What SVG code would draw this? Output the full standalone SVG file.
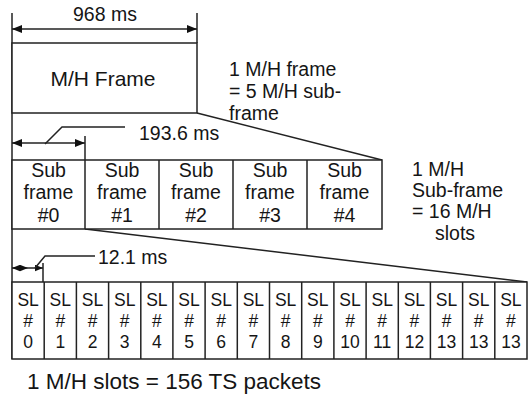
<svg xmlns="http://www.w3.org/2000/svg" width="530" height="396" viewBox="0 0 530 396">
<defs>
<marker id="ah" viewBox="0 0 10 8" refX="10" refY="4" markerWidth="10" markerHeight="8" markerUnits="userSpaceOnUse" orient="auto-start-reverse"><path d="M0,0 L10,4 L0,8 Z" fill="#111"/></marker>
<marker id="ahs" viewBox="0 0 10 8" refX="10" refY="4" markerWidth="8" markerHeight="7" markerUnits="userSpaceOnUse" orient="auto-start-reverse"><path d="M0,0 L10,4 L0,8 Z" fill="#111"/></marker>
</defs>
<style>
.ln{stroke:#222;stroke-width:1.5;fill:none}
.bx{stroke:#222;stroke-width:1.5;fill:#fff}
text{font-family:"Liberation Sans",Arial,sans-serif;fill:#151515}
.t{font-size:19.5px}
.f{font-size:21px}
.c{text-anchor:middle}
.sl{font-size:17.5px;text-anchor:middle}
.b{font-size:22.5px}
</style>
<rect width="530" height="396" fill="#fff"/>
<g id="connectors">
<line class="ln" x1="12" y1="13" x2="12" y2="359"/>
<line class="ln" x1="197" y1="13" x2="197" y2="43"/>
<line class="ln" x1="12" y1="29" x2="197" y2="29" marker-start="url(#ah)" marker-end="url(#ah)"/>
<line class="ln" x1="197" y1="113" x2="382" y2="160"/>
<line class="ln" x1="85" y1="229" x2="527" y2="282"/>
<line class="ln" x1="12" y1="143" x2="85" y2="143" marker-start="url(#ah)" marker-end="url(#ah)"/>
<line class="ln" x1="85" y1="136" x2="85" y2="160"/>
<polyline class="ln" points="45,144 62,127 125,127"/>
<line class="ln" x1="12" y1="268" x2="28" y2="268" marker-start="url(#ahs)" marker-end="url(#ahs)"/>
<line class="ln" x1="28" y1="268" x2="43" y2="268" marker-end="url(#ahs)"/>
<line class="ln" x1="43" y1="263" x2="43" y2="282"/>
<polyline class="ln" points="35,268 45,256 95,256"/>
</g>
<g id="frame">
<rect class="bx" x="12" y="43" width="185" height="70"/>
<text class="f c" x="103" y="86">M/H Frame</text>
</g>
<g id="label-968"><text class="t c" x="105" y="21">968 ms</text></g>
<g id="label-frame-eq">
<text class="t" x="229" y="76">1 M/H frame</text>
<text class="t" x="229" y="98">= 5 M/H sub-</text>
<text class="t" x="229" y="120">frame</text>
</g>
<g id="label-193"><text class="t" x="139" y="140">193.6 ms</text></g>
<g id="subframes">
<rect class="bx" x="12" y="160" width="370" height="69"/>
<line class="ln" x1="85" y1="160" x2="85" y2="229"/>
<line class="ln" x1="159" y1="160" x2="159" y2="229"/>
<line class="ln" x1="233" y1="160" x2="233" y2="229"/>
<line class="ln" x1="307" y1="160" x2="307" y2="229"/>
<g id="sf0"><text class="t c" x="48.5" y="177">Sub</text><text class="t c" x="48.5" y="199">frame</text><text class="t c" x="48.5" y="222">#0</text></g>
<g id="sf1"><text class="t c" x="122" y="177">Sub</text><text class="t c" x="122" y="199">frame</text><text class="t c" x="122" y="222">#1</text></g>
<g id="sf2"><text class="t c" x="196" y="177">Sub</text><text class="t c" x="196" y="199">frame</text><text class="t c" x="196" y="222">#2</text></g>
<g id="sf3"><text class="t c" x="270" y="177">Sub</text><text class="t c" x="270" y="199">frame</text><text class="t c" x="270" y="222">#3</text></g>
<g id="sf4"><text class="t c" x="344.5" y="177">Sub</text><text class="t c" x="344.5" y="199">frame</text><text class="t c" x="344.5" y="222">#4</text></g>
</g>
<g id="label-subframe-eq">
<text class="t" x="412" y="176">1 M/H</text>
<text class="t" x="412" y="197">Sub-frame</text>
<text class="t" x="412" y="218">= 16 M/H</text>
<text class="t" x="435" y="240">slots</text>
</g>
<g id="label-121"><text class="t" x="98" y="264">12.1 ms</text></g>
<g id="slots">
<rect class="bx" x="12" y="282" width="515" height="77"/>
<line class="ln" x1="44.2" y1="282" x2="44.2" y2="359"/>
<line class="ln" x1="76.4" y1="282" x2="76.4" y2="359"/>
<line class="ln" x1="108.6" y1="282" x2="108.6" y2="359"/>
<line class="ln" x1="140.8" y1="282" x2="140.8" y2="359"/>
<line class="ln" x1="172.9" y1="282" x2="172.9" y2="359"/>
<line class="ln" x1="205.1" y1="282" x2="205.1" y2="359"/>
<line class="ln" x1="237.3" y1="282" x2="237.3" y2="359"/>
<line class="ln" x1="269.5" y1="282" x2="269.5" y2="359"/>
<line class="ln" x1="301.7" y1="282" x2="301.7" y2="359"/>
<line class="ln" x1="333.9" y1="282" x2="333.9" y2="359"/>
<line class="ln" x1="366.1" y1="282" x2="366.1" y2="359"/>
<line class="ln" x1="398.3" y1="282" x2="398.3" y2="359"/>
<line class="ln" x1="430.4" y1="282" x2="430.4" y2="359"/>
<line class="ln" x1="462.6" y1="282" x2="462.6" y2="359"/>
<line class="ln" x1="494.8" y1="282" x2="494.8" y2="359"/>
<g id="sl0"><text class="sl" x="28.1" y="306">SL</text><text class="sl" x="28.1" y="327">#</text><text class="sl" x="28.1" y="348">0</text></g>
<g id="sl1"><text class="sl" x="60.3" y="306">SL</text><text class="sl" x="60.3" y="327">#</text><text class="sl" x="60.3" y="348">1</text></g>
<g id="sl2"><text class="sl" x="92.5" y="306">SL</text><text class="sl" x="92.5" y="327">#</text><text class="sl" x="92.5" y="348">2</text></g>
<g id="sl3"><text class="sl" x="124.7" y="306">SL</text><text class="sl" x="124.7" y="327">#</text><text class="sl" x="124.7" y="348">3</text></g>
<g id="sl4"><text class="sl" x="156.9" y="306">SL</text><text class="sl" x="156.9" y="327">#</text><text class="sl" x="156.9" y="348">4</text></g>
<g id="sl5"><text class="sl" x="189" y="306">SL</text><text class="sl" x="189" y="327">#</text><text class="sl" x="189" y="348">5</text></g>
<g id="sl6"><text class="sl" x="221.2" y="306">SL</text><text class="sl" x="221.2" y="327">#</text><text class="sl" x="221.2" y="348">6</text></g>
<g id="sl7"><text class="sl" x="253.4" y="306">SL</text><text class="sl" x="253.4" y="327">#</text><text class="sl" x="253.4" y="348">7</text></g>
<g id="sl8"><text class="sl" x="285.6" y="306">SL</text><text class="sl" x="285.6" y="327">#</text><text class="sl" x="285.6" y="348">8</text></g>
<g id="sl9"><text class="sl" x="317.8" y="306">SL</text><text class="sl" x="317.8" y="327">#</text><text class="sl" x="317.8" y="348">9</text></g>
<g id="sl10"><text class="sl" x="350" y="306">SL</text><text class="sl" x="350" y="327">#</text><text class="sl" x="350" y="348">10</text></g>
<g id="sl11"><text class="sl" x="382.2" y="306">SL</text><text class="sl" x="382.2" y="327">#</text><text class="sl" x="382.2" y="348">11</text></g>
<g id="sl12"><text class="sl" x="414.4" y="306">SL</text><text class="sl" x="414.4" y="327">#</text><text class="sl" x="414.4" y="348">12</text></g>
<g id="sl13a"><text class="sl" x="446.5" y="306">SL</text><text class="sl" x="446.5" y="327">#</text><text class="sl" x="446.5" y="348">13</text></g>
<g id="sl13b"><text class="sl" x="478.7" y="306">SL</text><text class="sl" x="478.7" y="327">#</text><text class="sl" x="478.7" y="348">13</text></g>
<g id="sl13c"><text class="sl" x="510.9" y="306">SL</text><text class="sl" x="510.9" y="327">#</text><text class="sl" x="510.9" y="348">13</text></g>
</g>
<g id="label-bottom"><text class="b" x="27" y="389">1 M/H slots = 156 TS packets</text></g>
</svg>
